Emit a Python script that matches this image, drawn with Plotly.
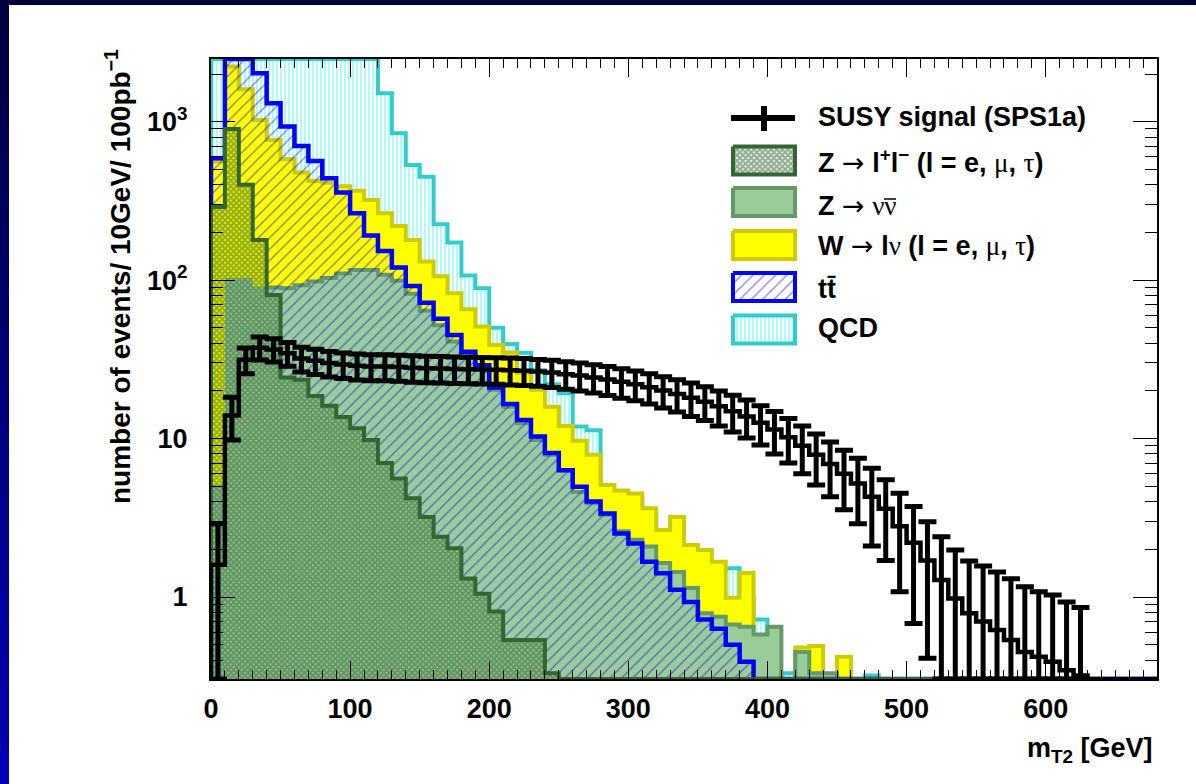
import numpy as np
import plotly.graph_objects as go

# ---------------- data: events / 10 GeV / 100 pb^-1, 10 GeV bins starting at 0 GeV
BIN_WIDTH = 10
AXIS_MAX_GEV = 680

qcd_counts = [9000, 14000, 12000, 9500, 7500, 6000, 5000, 4200, 3600, 3100, 2800, 2600,
              1513, 846, 534, 450, 225, 173, 107, 89, 50, 39.6, 34.8, 27, 22, 19.3, 11.9, 11.3,
              4.5, 4.4, 4.2, 3.4, 2.58, 1.84, 1.80, 1.52, 1.48, 1.52, 1.0, 0.72, 0, 0.33,
              0, 0, 0, 0, 0, 0.32]
ttbar_counts = [588, 3300, 2900, 2024, 1309, 932, 703, 565, 440, 357, 264, 191, 153, 120, 92,
                72, 57, 45, 35.3, 29, 21, 16.5, 13.1, 10.3, 8.1, 6.3, 4.97, 4.0, 3.37, 2.52,
                2.18, 1.67, 1.41, 1.11, 0.93, 0.72, 0.63, 0.50, 0.39]
w_lnu_counts = [561, 2228, 1604, 1026, 767, 580, 478, 422, 412, 392, 366, 321, 264, 220, 179,
                131, 106, 82.7, 65.5, 50.9, 39, 35, 26, 20.3, 15.9, 12, 9.7, 7.9, 5.1, 4.7,
                4.5, 3.63, 2.65, 3.2, 2.13, 1.98, 1.67, 0.99, 1.42, 0, 0, 0, 0.48, 0.49, 0,
                0.42]
z_nunu_counts = [5.1, 103, 103, 91, 90, 89, 93, 98, 103, 110, 116, 116, 108, 99, 82, 64, 52,
                 41, 33.6, 28, 20.3, 15.9, 12.5, 9.8, 7.9, 6.3, 4.6, 3.9, 3.3, 2.6, 2.3, 2.08,
                 1.64, 1.44, 1.14, 0.79, 0.75, 0.67, 0.65, 0.58, 0.65, 0, 0.45, 0.33, 0.33]
z_ll_counts = [290, 900, 400, 179, 80.5, 24.3, 23.5, 18.6, 16.1, 13.7, 11.6, 9.8, 7.0, 5.6,
               4.2, 3.2, 2.4, 2.03, 1.31, 1.05, 0.81, 0.535, 0.535, 0.535, 0.33]
signal_counts = [1.6, 14.0, 31.5, 37.5, 36.5, 34.5, 32.0, 31.0, 30.0, 29.3, 28.8, 28.5, 28.5,
                 28.3, 28.0, 27.8, 27.7, 27.5, 27.4, 27.3, 27.2, 27.0, 26.8, 26.5, 26.1, 25.5,
                 25.0, 24.3, 23.6, 22.8, 22.0, 21.1, 20.1, 19.1, 18.1, 17.1, 16.0, 14.9, 13.8,
                 12.6, 11.4, 10.2, 9.0, 7.9, 6.9, 6.0, 5.2, 4.3, 3.6, 2.8, 2.2, 1.7, 1.28, 0.98,
                 0.79, 0.70, 0.62, 0.535, 0.45, 0.42, 0.39, 0.345, 0.32]
signal_errors = [1.3, 4.2, 5.8, 6.2, 6.1, 5.9, 5.7, 5.6, 5.5, 5.4, 5.4, 5.3, 5.3, 5.3, 5.3,
                 5.3, 5.3, 5.2, 5.2, 5.2, 5.2, 5.2, 5.2, 5.1, 5.1, 5.0, 5.0, 4.9, 4.9, 4.8, 4.7,
                 4.6, 4.5, 4.4, 4.3, 4.1, 4.0, 3.9, 3.7, 3.5, 3.4, 3.2, 3.0, 2.8, 2.6, 2.45,
                 2.3, 2.2, 1.9, 1.72, 1.52, 1.29, 1.12, 1.0, 0.9, 0.87, 0.82, 0.77, 0.71, 0.66,
                 0.64, 0.585, 0.54]

x_tick_values = [0, 100, 200, 300, 400, 500, 600]
y_tick_values = [1, 10, 100, 1000]
y_tick_text = ["1", "10", "10<sup>2</sup>", "10<sup>3</sup>"]

SYM = "<span style='font-family:DejaVu Sans;font-weight:normal'>\u2192</span>"


def greek(ch):
    return "<span style='font-family:Liberation Serif;font-weight:normal'>" + ch + "</span>"


legend_labels = {
    "signal": "SUSY signal (SPS1a)",
    "zll": "Z " + SYM + " l<sup>+</sup>l<sup>\u2212</sup> (l = e, " + greek("\u03bc") + ", "
           + greek("\u03c4") + ")",
    "znunu": "Z " + SYM + " " + greek("\u03bd\u03bd"),
    "wlnu": "W " + SYM + " l" + greek("\u03bd") + " (l = e, " + greek("\u03bc") + ", "
            + greek("\u03c4") + ")",
    "ttbar": "tt\u0304",
    "qcd": "QCD",
}

# ---------------- geometry / style
Y_MIN, Y_MAX = 0.3037, 2488.0
PX_L, PX_R, PX_T, PX_B = 211, 1157, 59, 679
W_FIG, H_FIG = 1196, 784
FONT = "Liberation Sans, Arial, Helvetica, sans-serif"

N_BINS = AXIS_MAX_GEV // BIN_WIDTH
edges = np.arange(N_BINS + 1) * BIN_WIDTH


def padded(vals):
    v = np.zeros(N_BINS)
    v[:len(vals)] = vals
    return v


def step_path(vals):
    v = np.clip(np.asarray(vals, dtype=float), Y_MIN, Y_MAX)
    n = len(v)
    x = np.concatenate([[edges[0]], edges[:n], [edges[n]]])
    y = np.concatenate([[Y_MIN], v, [Y_MIN]])
    return x, y


fig = go.Figure()


def add_hist(vals, line_color=None, line_width=0, fillcolor=None, pattern=None, fill=True):
    x, y = step_path(vals)
    kw = {}
    if fill:
        kw["fill"] = "tozeroy"
        kw["fillcolor"] = fillcolor if fillcolor else "rgba(0,0,0,0)"
        if pattern:
            kw["fillpattern"] = pattern
    fig.add_trace(go.Scatter(
        x=x, y=y, mode="lines",
        line=dict(shape="hv", color=line_color or "rgba(0,0,0,0)", width=line_width),
        showlegend=False, hoverinfo="skip", **kw))


qcd = padded(qcd_counts)
ttbar = padded(ttbar_counts)
wlnu = padded(w_lnu_counts)
znunu = padded(z_nunu_counts)
zll = padded(z_ll_counts)

QCD_PAT = dict(shape="|", fgcolor="#22eeee", bgcolor="white", size=4, solidity=0.35)
TT_PAT = dict(shape="/", fgcolor="#0000ff", bgcolor="rgba(0,0,0,0)", size=8, solidity=0.16)
ZLL_FG = "#2f5f2f"


def zll_pattern(bg):
    return dict(shape="x", fgcolor=ZLL_FG, bgcolor=bg, size=4, solidity=0.8)


add_hist(qcd, "#33cccc", 4, pattern=QCD_PAT)
add_hist(wlnu, "#cccc00", 4, fillcolor="#ffff00")
add_hist(znunu, "#669966", 4, fillcolor="#99cc99")
add_hist(ttbar, "#0000ff", 4.5, pattern=TT_PAT)
# Z -> ll cross-hatch: over the W fill where it exceeds Z->nunu, over the Z->nunu fill below
add_hist(zll, None, 0, pattern=zll_pattern("#ffff00"))
add_hist(np.minimum(zll, znunu), None, 0, pattern=zll_pattern("#99cc99"))
add_hist(zll, "#336633", 4, fill=False)

# signal: step line + error bars
sig = np.asarray(signal_counts, dtype=float)
err = np.asarray(signal_errors, dtype=float)
add_hist(padded(sig), "black", 4.5, fill=False)
centers = edges[:len(sig)] + BIN_WIDTH / 2
err_minus = np.minimum(err, sig - Y_MIN)
fig.add_trace(go.Scatter(
    x=centers, y=sig, mode="markers", marker=dict(size=1, color="black"),
    error_y=dict(type="data", symmetric=False, array=err, arrayminus=err_minus,
                 color="black", thickness=5, width=9),
    showlegend=False, hoverinfo="skip"))

# ---------------- legend (drawn in a pixel-coordinate overlay)
LEG_X0, LEG_X1 = 733, 795
LEG_TEXT_X = 816
legend_rows = [
    ("zll", 160.5, "#336633", "white", zll_pattern("white")),
    ("znunu", 202, "#669966", "#99cc99", None),
    ("wlnu", 245, "#cccc00", "#ffff00", None),
    ("ttbar", 287, "#0000ff", "rgba(0,0,0,0)", TT_PAT),
    ("qcd", 329.5, "#33cccc", "white", QCD_PAT),
]
for key, yc, lc, fc, pat in legend_rows:
    h = 14
    kw = dict(fillpattern=pat) if pat else {}
    fig.add_trace(go.Scatter(
        x=[LEG_X0, LEG_X1, LEG_X1, LEG_X0, LEG_X0], y=[yc - h, yc - h, yc + h, yc + h, yc - h],
        xaxis="x2", yaxis="y2", mode="lines", fill="toself", fillcolor=fc,
        line=dict(color=lc, width=4), showlegend=False, hoverinfo="skip", **kw))

annotations = []
legend_text_y = {"signal": 117, "zll": 161, "znunu": 205, "wlnu": 245, "ttbar": 289, "qcd": 328}
for key, yc in legend_text_y.items():
    annotations.append(dict(
        x=LEG_TEXT_X, y=yc, xref="x2", yref="y2", xanchor="left", yanchor="middle",
        text=legend_labels[key], showarrow=False,
        font=dict(family=FONT, size=27, color="black", weight="bold")))

shapes = [
    dict(type="line", xref="x2", yref="y2", x0=731, x1=795, y0=118, y1=118,
         line=dict(color="black", width=6)),
    dict(type="line", xref="x2", yref="y2", x0=764, x1=764, y0=106, y1=131,
         line=dict(color="black", width=6)),
    # bar over the second nu of "Z -> nu nubar"
    dict(type="line", xref="x2", yref="y2", x0=884, x1=896, y0=199, y1=199,
         line=dict(color="black", width=1.5)),
]

# axis titles
PW, PH = PX_R - PX_L, PX_B - PX_T


def paper_x(px):
    return (px - PX_L) / PW


def paper_y(py):
    return (PX_B - py) / PH


annotations.append(dict(
    x=paper_x(1155), y=paper_y(750), xref="paper", yref="paper", xanchor="right", yanchor="middle",
    text="m<sub>T2</sub> [GeV]", showarrow=False,
    font=dict(family=FONT, size=27, color="black", weight="bold")))
annotations.append(dict(
    x=paper_x(118), y=paper_y(277), xref="paper", yref="paper", xanchor="center", yanchor="middle",
    text="number of events/ 10GeV/ 100pb<sup>\u22121</sup>", textangle=-90, showarrow=False,
    font=dict(family=FONT, size=28, color="black", weight="bold")))

# slide background: dark blue top strip and blue gradient left strip
shapes.append(dict(type="rect", xref="paper", yref="paper", layer="below",
                   x0=paper_x(0), x1=paper_x(W_FIG), y0=paper_y(5), y1=paper_y(0),
                   fillcolor="#000038", line=dict(width=0)))
n_grad = 24
for i in range(n_grad):
    t = i / (n_grad - 1)
    r_b = int(round(0x40 + (0xb4 - 0x40) * t))
    shapes.append(dict(type="rect", xref="paper", yref="paper", layer="below",
                       x0=paper_x(0), x1=paper_x(9),
                       y0=paper_y(H_FIG * (i + 1) / n_grad + 1), y1=paper_y(H_FIG * i / n_grad),
                       fillcolor=f"rgb(0,0,{r_b})", line=dict(width=0)))

minor_y = [v * m for v in (0.1, 1, 10, 100, 1000) for m in range(2, 10) if Y_MIN < v * m < Y_MAX]
minor_x = list(range(0, AXIS_MAX_GEV + 1, BIN_WIDTH))

tick_font = dict(family=FONT, size=27, color="black", weight="bold")
fig.update_layout(
    width=W_FIG, height=H_FIG,
    margin=dict(l=PX_L, r=W_FIG - PX_R, t=PX_T, b=H_FIG - PX_B, pad=0),
    paper_bgcolor="white", plot_bgcolor="white", showlegend=False,
    xaxis=dict(range=[0, AXIS_MAX_GEV], tickmode="array", tickvals=x_tick_values,
               ticks="inside", ticklen=18, tickwidth=1, tickcolor="black",
               showline=True, linecolor="black", linewidth=2, mirror="ticks",
               showgrid=False, zeroline=False, tickfont=tick_font, ticklabelstandoff=5,
               minor=dict(tickmode="array", tickvals=minor_x, ticks="inside", ticklen=9,
                          tickwidth=1, tickcolor="black", showgrid=False)),
    yaxis=dict(type="log", range=[np.log10(Y_MIN), np.log10(Y_MAX)], tickmode="array",
               tickvals=y_tick_values, ticktext=y_tick_text,
               ticks="inside", ticklen=24, tickwidth=1, tickcolor="black",
               showline=True, linecolor="black", linewidth=2, mirror="ticks",
               showgrid=False, zeroline=False, tickfont=tick_font, ticklabelstandoff=16,
               minor=dict(tickmode="array", tickvals=minor_y, ticks="inside", ticklen=12,
                          tickwidth=1, tickcolor="black", showgrid=False)),
    xaxis2=dict(overlaying="x", range=[PX_L, PX_R], visible=False, anchor="y2"),
    yaxis2=dict(overlaying="y", range=[PX_B, PX_T], visible=False, anchor="x2"),
    annotations=annotations, shapes=shapes,
)

fig.write_html("out.html", config={"displayModeBar": False, "staticPlot": True},
               post_script="document.body.style.margin='0px';document.body.style.overflow='hidden';")
